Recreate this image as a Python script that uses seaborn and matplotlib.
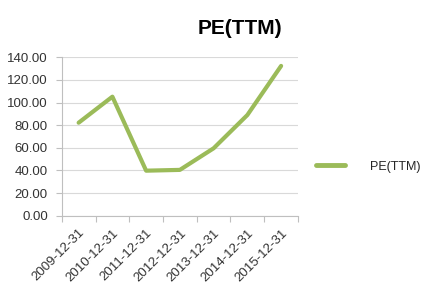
import matplotlib
matplotlib.use("Agg")
import matplotlib.pyplot as plt
import seaborn as sns
import pandas as pd
import numpy as np

dates = ["2009-12-31", "2010-12-31", "2011-12-31", "2012-12-31",
         "2013-12-31", "2014-12-31", "2015-12-31"]
pe_values = [82.2, 105.2, 39.8, 40.5, 59.6, 89.0, 132.4]
series_name = "PE(TTM)"
yticks = [0, 20, 40, 60, 80, 100, 120, 140]

sns.set_theme(style="white")
plt.rcParams['font.family'] = ['Liberation Sans', 'DejaVu Sans']

df = pd.DataFrame({"date": dates, "value": pe_values, "series": series_name})

fig = plt.figure(figsize=(4.35, 2.88), dpi=100)
ax = fig.add_axes([0.142, 0.251, 0.543, 0.550])

sns.lineplot(data=df, x="date", y="value", hue="series", palette=["#9BBB59"],
             linewidth=3.0, ax=ax, sort=False)

ax.set_xlim(-0.5, len(dates) - 0.5)
ax.set_ylim(0, 140)
ax.set_yticks(yticks)
ax.set_yticklabels([f"{v:.2f}" for v in yticks], fontsize=9.5, color="#333333")
ax.set_xticks(range(len(dates)))
ax.set_xticklabels(dates, rotation=45, ha="right", rotation_mode="anchor",
                   fontsize=9.5, color="#333333")
ax.set_xticks(np.arange(-0.5, len(dates), 1.0), minor=True)
ax.tick_params(axis="x", which="major", length=0, pad=8)
ax.tick_params(axis="x", which="minor", length=4, color="#BFBFBF", width=0.8, bottom=True)
ax.tick_params(axis="y", length=4, color="#BFBFBF", width=0.8, left=True, pad=6)
ax.set_xlabel("")
ax.set_ylabel("")

ax.grid(axis="y", color="#D9D9D9", linewidth=0.8)
ax.set_axisbelow(True)
for s in ["top", "right"]:
    ax.spines[s].set_visible(False)
for s in ["left", "bottom"]:
    ax.spines[s].set_color("#BFBFBF")
    ax.spines[s].set_linewidth(0.8)

fig.text(0.552, 0.90, series_name, ha="center", va="center", fontsize=15,
         fontweight="bold", color="#000000")

leg = ax.legend(loc="center left", bbox_to_anchor=(1.03, 0.31), frameon=False,
                fontsize=9, handlelength=2.3, handletextpad=2.0)
for line in leg.get_lines():
    line.set_linewidth(3.5)

fig.savefig("out.png", dpi=100)
